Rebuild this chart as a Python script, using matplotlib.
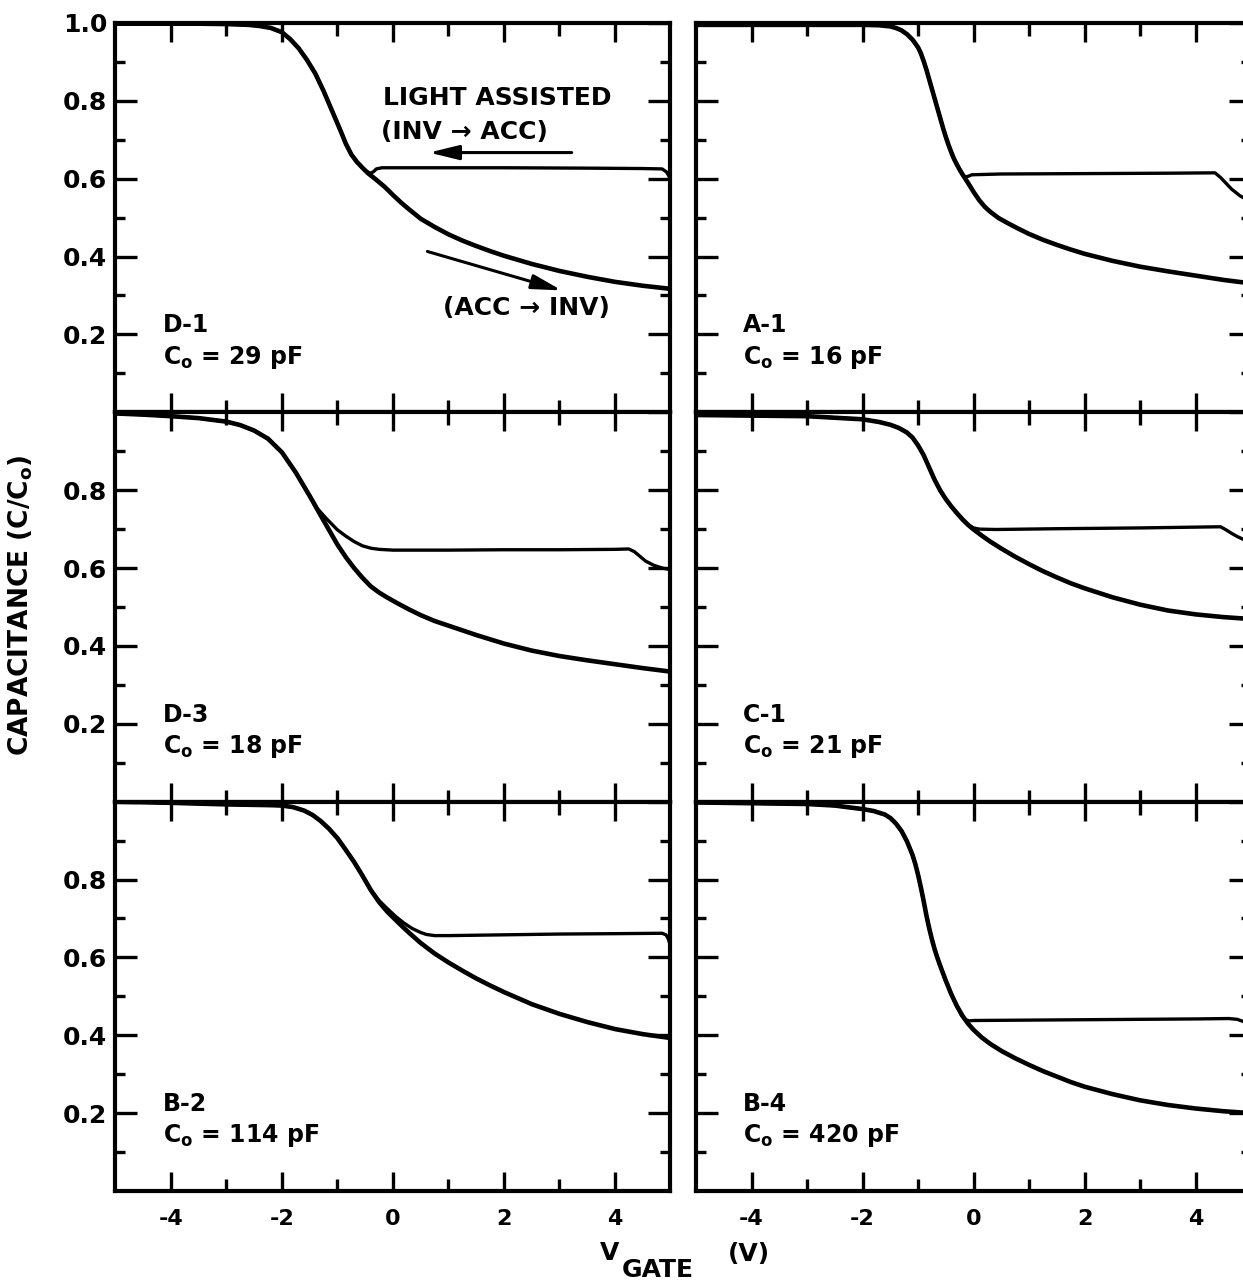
import matplotlib
matplotlib.use('Agg')
import matplotlib.pyplot as plt
from matplotlib.ticker import FixedLocator

# ----------------------------------------------------------------------------------------------------------------------
# C-V curves (V_gate in volts, C/Co); "acc" = ACC -> INV sweep, "light" = light assisted INV -> ACC
d1_acc_x = [-5.0, -3.5, -3.0, -2.6, -2.4, -2.2, -2.0, -1.85, -1.7, -1.55, -1.4, -1.25, -1.1, -0.95, -0.85, -0.75,
            -0.65, -0.55, -0.45, -0.3, -0.15, 0.0, 0.15, 0.3, 0.5, 0.75, 1.0, 1.25, 1.5, 1.75, 2.0, 2.5, 3.0, 3.5,
            4.0, 4.5, 5.0]
d1_acc_y = [0.998, 0.998, 0.997, 0.995, 0.992, 0.987, 0.976, 0.958, 0.935, 0.905, 0.870, 0.825, 0.775, 0.725,
            0.690, 0.662, 0.643, 0.628, 0.614, 0.597, 0.579, 0.558, 0.538, 0.520, 0.497, 0.476, 0.457, 0.441,
            0.427, 0.414, 0.402, 0.381, 0.363, 0.348, 0.335, 0.325, 0.317]
d1_light_x = [-5.0, -3.5, -3.0, -2.6, -2.4, -2.2, -2.0, -1.85, -1.7, -1.55, -1.4, -1.25, -1.1, -0.95, -0.85,
              -0.75, -0.65, -0.55, -0.47, -0.4, -0.35, -0.3, -0.2, 0.5, 2.0, 3.5, 4.5, 4.85, 4.93, 5.0]
d1_light_y = [0.998, 0.998, 0.997, 0.995, 0.992, 0.987, 0.976, 0.958, 0.935, 0.905, 0.870, 0.825, 0.775, 0.725,
              0.690, 0.662, 0.643, 0.628, 0.618, 0.614, 0.618, 0.625, 0.628, 0.628, 0.628, 0.627, 0.626, 0.625,
              0.617, 0.600]

a1_acc_x = [-5.0, -2.0, -1.7, -1.5, -1.4, -1.3, -1.2, -1.1, -1.0, -0.95, -0.9, -0.85, -0.8, -0.75, -0.7, -0.65,
            -0.6, -0.55, -0.5, -0.45, -0.4, -0.35, -0.3, -0.25, -0.2, -0.1, 0.0, 0.1, 0.2, 0.3, 0.45, 0.6, 0.8,
            1.0, 1.25, 1.5, 1.75, 2.0, 2.5, 3.0, 3.5, 4.0, 4.5, 5.0]
a1_acc_y = [0.995, 0.995, 0.994, 0.991, 0.987, 0.981, 0.971, 0.957, 0.937, 0.922, 0.902, 0.880, 0.855, 0.830,
            0.805, 0.780, 0.755, 0.730, 0.707, 0.686, 0.667, 0.650, 0.636, 0.623, 0.611, 0.589, 0.566, 0.545,
            0.528, 0.515, 0.499, 0.487, 0.472, 0.458, 0.443, 0.430, 0.418, 0.407, 0.389, 0.374, 0.362, 0.351,
            0.340, 0.331]
a1_light_x = [-5.0, -2.0, -1.7, -1.5, -1.4, -1.3, -1.2, -1.1, -1.0, -0.95, -0.9, -0.85, -0.8, -0.75, -0.7, -0.65,
              -0.6, -0.55, -0.5, -0.45, -0.4, -0.35, -0.3, -0.25, -0.2, -0.15, -0.1, -0.03, 0.5, 2.0, 3.5, 4.35,
              4.45, 4.55, 4.65, 4.8, 5.0]
a1_light_y = [0.995, 0.995, 0.994, 0.991, 0.987, 0.981, 0.971, 0.957, 0.937, 0.922, 0.902, 0.880, 0.855, 0.830,
              0.805, 0.780, 0.755, 0.730, 0.707, 0.686, 0.667, 0.650, 0.636, 0.623, 0.611, 0.604, 0.606, 0.610,
              0.612, 0.613, 0.614, 0.615, 0.603, 0.588, 0.573, 0.556, 0.540]

d3_acc_x = [-5.0, -4.5, -4.0, -3.5, -3.0, -2.75, -2.5, -2.25, -2.0, -1.75, -1.5, -1.25, -1.0, -0.85, -0.7, -0.55,
            -0.4, -0.25, -0.1, 0.0, 0.1, 0.3, 0.5, 0.75, 1.0, 1.5, 2.0, 2.5, 3.0, 3.5, 4.0, 4.5, 5.0]
d3_acc_y = [0.997, 0.994, 0.990, 0.985, 0.976, 0.967, 0.953, 0.932, 0.897, 0.845, 0.785, 0.722, 0.660, 0.628,
            0.600, 0.575, 0.553, 0.537, 0.524, 0.516, 0.508, 0.493, 0.479, 0.464, 0.452, 0.428, 0.406, 0.388,
            0.374, 0.363, 0.353, 0.343, 0.334]
d3_light_x = [-5.0, -4.5, -4.0, -3.5, -3.0, -2.75, -2.5, -2.25, -2.0, -1.75, -1.5, -1.37, -1.2, -1.0, -0.85, -0.7,
              -0.55, -0.4, -0.25, 0.0, 1.0, 2.0, 3.0, 4.0, 4.25, 4.35, 4.45, 4.55, 4.7, 4.85, 5.0]
d3_light_y = [0.997, 0.994, 0.990, 0.985, 0.976, 0.967, 0.953, 0.932, 0.897, 0.845, 0.785, 0.754, 0.727, 0.698,
              0.682, 0.668, 0.657, 0.651, 0.648, 0.646, 0.646, 0.647, 0.647, 0.648, 0.649, 0.642, 0.630, 0.618,
              0.607, 0.600, 0.596]

c1_acc_x = [-5.0, -3.0, -2.0, -1.7, -1.5, -1.35, -1.2, -1.1, -1.0, -0.9, -0.8, -0.7, -0.6, -0.5, -0.4, -0.3, -0.2,
            -0.1, 0.0, 0.15, 0.3, 0.5, 0.75, 1.0, 1.25, 1.5, 1.75, 2.0, 2.5, 3.0, 3.5, 4.0, 4.5, 5.0]
c1_acc_y = [0.993, 0.990, 0.982, 0.975, 0.968, 0.960, 0.948, 0.935, 0.915, 0.890, 0.858, 0.826, 0.799, 0.777,
            0.758, 0.741, 0.725, 0.711, 0.699, 0.683, 0.668, 0.650, 0.629, 0.610, 0.592, 0.576, 0.561, 0.548,
            0.525, 0.506, 0.491, 0.481, 0.474, 0.469]
c1_light_x = [-5.0, -3.0, -2.0, -1.7, -1.5, -1.35, -1.2, -1.1, -1.0, -0.9, -0.8, -0.7, -0.6, -0.5, -0.4, -0.3,
              -0.2, -0.1, 0.0, 0.1, 0.4, 1.5, 3.0, 4.45, 4.55, 4.65, 4.75, 4.9, 5.0]
c1_light_y = [0.993, 0.990, 0.982, 0.975, 0.968, 0.960, 0.948, 0.935, 0.915, 0.890, 0.858, 0.826, 0.799, 0.777,
              0.758, 0.741, 0.725, 0.711, 0.703, 0.700, 0.699, 0.701, 0.703, 0.706, 0.698, 0.689, 0.681, 0.671,
              0.666]

b2_acc_x = [-5.0, -4.0, -3.0, -2.2, -2.0, -1.8, -1.6, -1.45, -1.3, -1.15, -1.0, -0.85, -0.7, -0.55, -0.4, -0.25,
            -0.1, 0.0, 0.15, 0.3, 0.5, 0.75, 1.0, 1.25, 1.5, 1.75, 2.0, 2.5, 3.0, 3.5, 4.0, 4.5, 5.0]
b2_acc_y = [1.000, 0.997, 0.993, 0.991, 0.990, 0.986, 0.977, 0.966, 0.950, 0.930, 0.906, 0.876, 0.845, 0.810,
            0.773, 0.742, 0.717, 0.703, 0.682, 0.662, 0.637, 0.610, 0.587, 0.566, 0.546, 0.528, 0.511, 0.480,
            0.455, 0.434, 0.416, 0.403, 0.393]
b2_light_x = [-5.0, -4.0, -3.0, -2.2, -2.0, -1.8, -1.6, -1.45, -1.3, -1.15, -1.0, -0.85, -0.7, -0.55, -0.4,
              -0.25, -0.1, 0.05, 0.2, 0.35, 0.5, 0.6, 0.75, 1.0, 2.0, 3.0, 4.0, 4.85, 4.92, 4.96, 5.0]
b2_light_y = [1.000, 0.997, 0.993, 0.991, 0.990, 0.986, 0.977, 0.966, 0.950, 0.930, 0.906, 0.876, 0.845, 0.810,
              0.773, 0.746, 0.725, 0.705, 0.688, 0.674, 0.664, 0.659, 0.656, 0.656, 0.658, 0.660, 0.661, 0.662,
              0.658, 0.648, 0.630]

b4_acc_x = [-5.0, -3.0, -2.5, -2.0, -1.8, -1.6, -1.5, -1.4, -1.3, -1.2, -1.1, -1.05, -1.0, -0.95, -0.9, -0.85,
            -0.8, -0.75, -0.7, -0.65, -0.6, -0.5, -0.4, -0.3, -0.2, -0.1, 0.0, 0.15, 0.3, 0.5, 0.75, 1.0, 1.25,
            1.5, 1.75, 2.0, 2.5, 3.0, 3.5, 4.0, 4.5, 5.0]
b4_acc_y = [0.998, 0.994, 0.990, 0.981, 0.976, 0.967, 0.958, 0.944, 0.925, 0.898, 0.863, 0.840, 0.812, 0.780,
            0.745, 0.708, 0.675, 0.646, 0.620, 0.598, 0.578, 0.540, 0.505, 0.475, 0.450, 0.430, 0.414, 0.394,
            0.378, 0.360, 0.341, 0.324, 0.308, 0.294, 0.280, 0.268, 0.249, 0.233, 0.221, 0.212, 0.205, 0.200]
b4_light_x = [-5.0, -3.0, -2.5, -2.0, -1.8, -1.6, -1.5, -1.4, -1.3, -1.2, -1.1, -1.05, -1.0, -0.95, -0.9, -0.85,
              -0.8, -0.75, -0.7, -0.65, -0.6, -0.5, -0.4, -0.3, -0.22, -0.15, -0.08, 0.0, 2.0, 4.0, 4.6, 4.75,
              4.85, 4.95, 5.0]
b4_light_y = [0.998, 0.994, 0.990, 0.981, 0.976, 0.967, 0.958, 0.944, 0.925, 0.898, 0.863, 0.840, 0.812, 0.780,
              0.745, 0.708, 0.675, 0.646, 0.620, 0.598, 0.578, 0.540, 0.505, 0.475, 0.452, 0.440, 0.437, 0.438,
              0.440, 0.442, 0.443, 0.441, 0.436, 0.428, 0.424]

sample_names = ['D-1', 'A-1', 'D-3', 'C-1', 'B-2', 'B-4']
co_labels = ['29 pF', '16 pF', '18 pF', '21 pF', '114 pF', '420 pF']

x_major = [-4, -2, 0, 2, 4]
x_minor = [-3, -1, 1, 3]
x_labels = ['-4', '-2', '0', '2', '4']
y_major = [0.2, 0.4, 0.6, 0.8, 1.0]
y_minor = [0.1, 0.3, 0.5, 0.7, 0.9]
y_labels = ['0.2', '0.4', '0.6', '0.8', '1.0']
# ----------------------------------------------------------------------------------------------------------------------

plt.rcParams.update({
    "font.family": "DejaVu Sans",
    "font.weight": "bold",
    "font.size": 18,
    "axes.unicode_minus": False,
    "mathtext.default": "bf",
})

curves = [
    (d1_acc_x, d1_acc_y, d1_light_x, d1_light_y),
    (a1_acc_x, a1_acc_y, a1_light_x, a1_light_y),
    (d3_acc_x, d3_acc_y, d3_light_x, d3_light_y),
    (c1_acc_x, c1_acc_y, c1_light_x, c1_light_y),
    (b2_acc_x, b2_acc_y, b2_light_x, b2_light_y),
    (b4_acc_x, b4_acc_y, b4_light_x, b4_light_y),
]

W, H = 1243, 1280
fig = plt.figure(figsize=(W / 100, H / 100), dpi=100)

col_left = [0.0929, 0.560]
ax_w = 0.4465
ax_h = 0.3042
b0 = 0.0695

axes = []
for i, (acc_x, acc_y, light_x, light_y) in enumerate(curves):
    row, col = divmod(i, 2)
    bottom = b0 + (2 - row) * ax_h
    ax = fig.add_axes([col_left[col], bottom, ax_w, ax_h])
    axes.append(ax)

    ax.plot(acc_x, acc_y, color='k', lw=3.3, solid_joinstyle='round', solid_capstyle='butt')
    ax.plot(light_x, light_y, color='k', lw=2.4, solid_joinstyle='round', solid_capstyle='butt')

    ax.set_xlim(-5, 5)
    ax.set_ylim(0, 1.0)
    ax.set_xticks(x_major, labels=x_labels)
    ax.xaxis.set_minor_locator(FixedLocator(x_minor))
    if col == 0 and row == 0:
        ax.set_yticks(y_major, labels=y_labels)
    else:
        ax.set_yticks(y_major, labels=y_labels[:-1] + [''])
    ax.yaxis.set_minor_locator(FixedLocator(y_minor))

    for spine in ax.spines.values():
        spine.set_linewidth(3)
    ax.tick_params(which='both', direction='in', top=True, right=True, width=2.4, color='k')
    ax.tick_params(axis='y', which='major', length=16, pad=6, labelsize=18)
    ax.tick_params(axis='y', which='minor', length=7)
    ax.tick_params(axis='x', which='major', length=14, pad=13, labelsize=16)
    ax.tick_params(axis='x', which='minor', length=9)
    ax.tick_params(labelleft=(col == 0), labelbottom=(row == 2))

    ax.text(-4.15, 0.205, sample_names[i], fontsize=17, va='baseline', ha='left')
    ax.text(-4.15, 0.125, r'C$_{o}$ = ' + co_labels[i], fontsize=17, va='baseline', ha='left')

# sweep direction notes in the D-1 panel
ax = axes[0]
ax.text(1.88, 0.806, 'LIGHT ASSISTED', ha='center', va='center', fontsize=18)
ax.text(1.29, 0.719, '(INV \u2192 ACC)', ha='center', va='center', fontsize=18)
ax.annotate('', xy=(0.65, 0.667), xytext=(3.22, 0.667),
            arrowprops=dict(arrowstyle='-|>,head_length=0.9,head_width=0.22', lw=2.2, color='k',
                            mutation_scale=20, shrinkA=0, shrinkB=0))
ax.annotate('', xy=(3.04, 0.313), xytext=(0.62, 0.413),
            arrowprops=dict(arrowstyle='-|>,head_length=0.9,head_width=0.22', lw=2.2, color='k',
                            mutation_scale=20, shrinkA=0, shrinkB=0))
ax.text(2.4, 0.267, '(ACC \u2192 INV)', ha='center', va='center', fontsize=18)

# axis titles
fig.text(21 / W, 0.527, r'CAPACITANCE (C/C$_{o}$)', rotation=90, ha='center', va='center', fontsize=19)
fig.text(600 / W, 1 - 1260 / H, 'V', fontsize=18, va='baseline', ha='left')
fig.text(622 / W, 1 - 1277 / H, 'GATE', fontsize=18, va='baseline', ha='left')
fig.text(728 / W, 1 - 1261 / H, '(V)', fontsize=18, va='baseline', ha='left')

fig.savefig('out.png', dpi=100)
